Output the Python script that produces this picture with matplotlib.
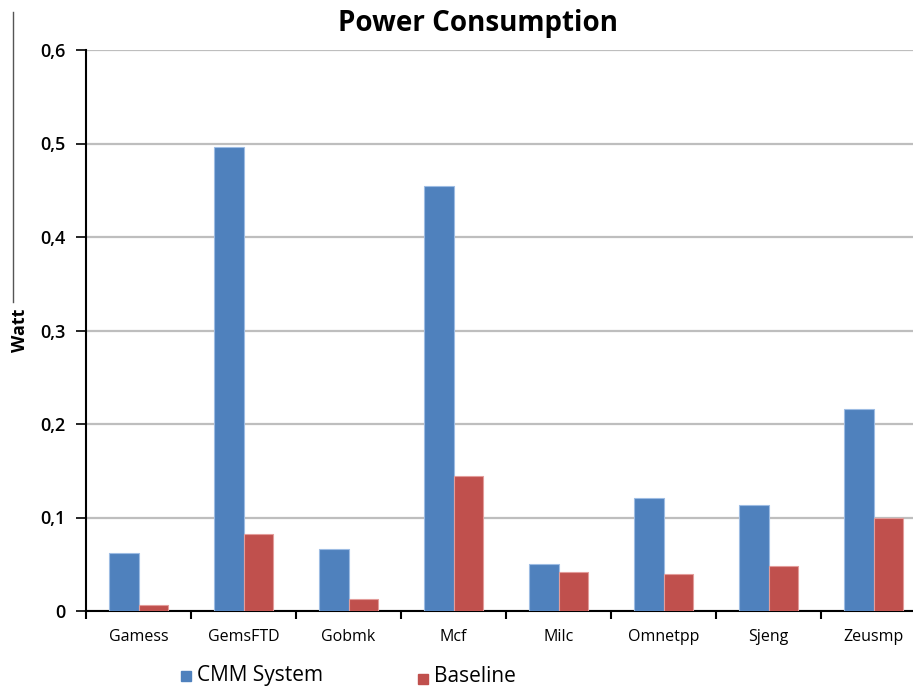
import matplotlib
matplotlib.use("Agg")
import matplotlib.pyplot as plt
import numpy as np
from matplotlib.lines import Line2D
from matplotlib.patches import Rectangle

benchmarks = ["Gamess", "GemsFTD", "Gobmk", "Mcf", "Milc", "Omnetpp", "Sjeng", "Zeusmp"]
cmm_system = [0.062, 0.496, 0.066, 0.455, 0.050, 0.121, 0.113, 0.216]
baseline = [0.006, 0.082, 0.013, 0.144, 0.042, 0.040, 0.048, 0.099]
yticks = [0, 0.1, 0.2, 0.3, 0.4, 0.5, 0.6]
ytick_labels = ["0", "0,1", "0,2", "0,3", "0,4", "0,5", "0,6"]

BLUE = "#4F81BD"
RED = "#C0504D"
W, H = 913, 688

plt.rcParams["font.family"] = ["Open Sans", "DejaVu Sans"]

fig = plt.figure(figsize=(W / 100, H / 100), dpi=100)
# plot area runs a little past the right edge of the figure
ax = fig.add_axes([86 / W, 77 / H, 840 / W, 561 / H])

x = np.arange(len(benchmarks))
w = 0.285
ax.bar(x - w / 2, cmm_system, w, color=BLUE, edgecolor="#9DBCE3", linewidth=0.8, zorder=3)
ax.bar(x + w / 2, baseline, w, color=RED, edgecolor="#E39C9A", linewidth=0.8, zorder=3)

ax.set_xlim(-0.5, len(benchmarks) - 0.5)
ax.set_ylim(0, 0.6)
ax.set_yticks(yticks)
ax.set_yticklabels(ytick_labels, fontsize=13, fontweight="semibold")
ax.yaxis.grid(True, color="#BEBEBE", linewidth=1.6, zorder=0)

# category labels centred, tick marks between categories
ax.set_xticks(x)
ax.set_xticklabels(benchmarks, fontsize=11.5, fontweight="medium")
ax.tick_params(axis="x", length=0, pad=13)
ax.set_xticks(np.arange(-0.5, len(benchmarks)), minor=True)
ax.tick_params(axis="x", which="minor", length=6, width=1.5, color="black", direction="out")
ax.tick_params(axis="y", length=7, width=1.2, direction="out", pad=8)

for side in ["top", "right"]:
    ax.spines[side].set_visible(False)
ax.spines["left"].set_linewidth(1.5)
ax.spines["bottom"].set_linewidth(1.5)

fig.text(20 / W, 1 - 330 / H, "Watt", rotation=90, ha="center", va="center",
         fontsize=13, fontweight="bold")
fig.text(478 / W, 1 - 23 / H, "Power Consumption", ha="center", va="center",
         fontsize=20, fontweight="bold")

# thin frame line at the far left
fig.add_artist(Line2D([13 / W, 13 / W], [1 - 12 / H, 1 - 302 / H],
                      color="#555555", linewidth=1.0))

# legend entries
fig.add_artist(Rectangle((181 / W, 1 - 681 / H), 10 / W, 10 / H, color=BLUE,
                         transform=fig.transFigure))
fig.text(197 / W, 1 - 676 / H, "CMM System", fontsize=15, ha="left", va="center")
fig.add_artist(Rectangle((418 / W, 1 - 684 / H), 10 / W, 10 / H, color=RED,
                         transform=fig.transFigure))
fig.text(434 / W, 1 - 677 / H, "Baseline", fontsize=15, ha="left", va="center")

fig.savefig("out.png", dpi=100)
